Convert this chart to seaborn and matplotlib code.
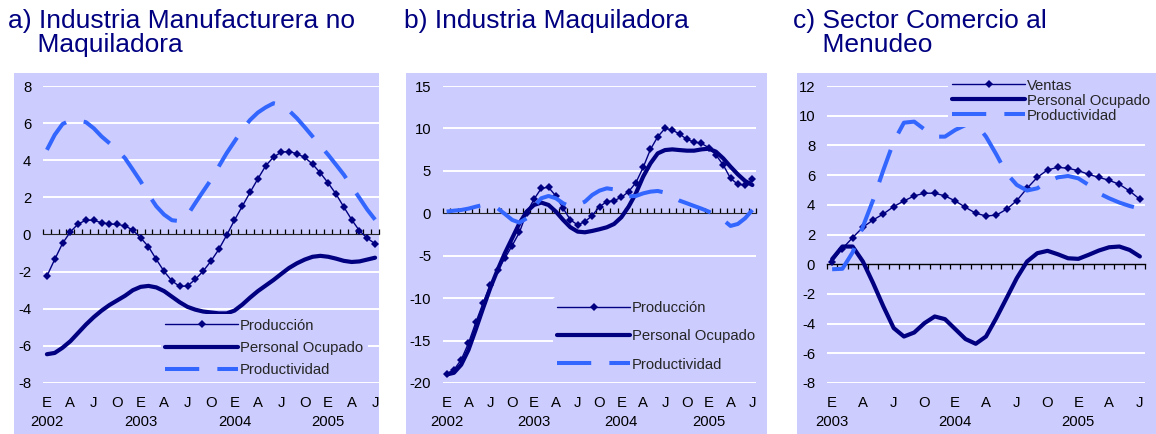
import matplotlib
matplotlib.use("Agg")
import matplotlib.pyplot as plt
import numpy as np
import pandas as pd
import seaborn as sns
from matplotlib.patches import Rectangle

sns.set_style("white")
plt.rcParams["font.family"] = ["Liberation Sans", "DejaVu Sans"]

NAVY = "#000080"
BLUE = "#3366FF"
LAVENDER = "#CCCCFF"

# a) Industria manufacturera no maquiladora, ene-2002 a jul-2005
prod_a = [-2.24, -1.34, -0.48, 0.14, 0.57, 0.77, 0.77, 0.63, 0.57, 0.54,
          0.47, 0.23, -0.18, -0.66, -1.34, -1.99, -2.5, -2.8, -2.77, -2.41,
          -1.97, -1.43, -0.8, -0.04, 0.77, 1.52, 2.27, 3.0, 3.7, 4.17,
          4.44, 4.47, 4.35, 4.15, 3.79, 3.31, 2.77, 2.18, 1.48, 0.8,
          0.2, -0.2, -0.5]
pers_a = [-6.45, -6.38, -6.1, -5.75, -5.3, -4.85, -4.45, -4.1, -3.8, -3.55,
          -3.3, -3.0, -2.82, -2.77, -2.85, -3.05, -3.35, -3.65, -3.9, -4.05,
          -4.15, -4.2, -4.25, -4.25, -4.1, -3.78, -3.4, -3.05, -2.75, -2.45,
          -2.12, -1.8, -1.55, -1.35, -1.2, -1.15, -1.2, -1.3, -1.42, -1.48,
          -1.45, -1.35, -1.25]
prodv_a = [4.56, 5.37, 5.95, 6.15, 6.15, 6.05, 5.72, 5.28, 4.92, 4.56,
           4.11, 3.49, 2.86, 2.15, 1.52, 1.07, 0.77, 0.72, 1.05, 1.7,
           2.33, 2.95, 3.67, 4.38, 5.01, 5.64, 6.17, 6.57, 6.85, 7.07,
           6.98, 6.67, 6.26, 5.78, 5.28, 4.78, 4.29, 3.76, 3.22, 2.59,
           1.97, 1.34, 0.8]

# b) Industria maquiladora, ene-2002 a jul-2005
prod_b = [-18.91, -18.44, -17.26, -15.3, -12.87, -10.59, -8.43, -6.67, -5.3, -3.81,
          -2.24, 0.08, 1.65, 2.94, 3.06, 2.04, 0.59, -0.78, -1.37, -0.98,
          -0.27, 0.78, 1.37, 1.49, 1.88, 2.55, 3.61, 5.41, 7.53, 9.02,
          10.0, 9.81, 9.34, 8.71, 8.4, 8.24, 7.73, 6.87, 5.69, 4.12,
          3.41, 3.33, 4.0]
pers_b = [-19.0, -18.8, -17.85, -16.1, -13.7, -11.2, -8.8, -6.67, -4.7, -2.94,
          -1.18, 0.2, 0.98, 1.26, 0.98, 0.2, -0.78, -1.65, -2.16, -2.24,
          -2.08, -1.88, -1.65, -1.26, -0.47, 0.78, 2.35, 4.32, 5.88, 7.06,
          7.45, 7.53, 7.45, 7.38, 7.38, 7.53, 7.61, 7.26, 6.47, 5.49,
          4.59, 3.81, 3.33]
prodv_b = [0.2, 0.31, 0.39, 0.55, 0.78, 0.98, 0.78, 0.59, -0.08, -0.78,
           -1.1, -0.59, 0.78, 1.77, 2.04, 1.77, 1.18, 0.78, 0.98, 1.37,
           2.16, 2.67, 2.94, 2.82, 2.3, 2.0, 2.04, 2.35, 2.55, 2.63,
           2.43, 1.96, 1.49, 1.18, 0.86, 0.55, 0.2, -0.2, -0.78, -1.49,
           -1.26, -0.59, 0.39]

# c) Sector comercio al menudeo, ene-2003 a jul-2005
ventas_c = [0.18, 1.05, 1.79, 2.49, 2.98, 3.39, 3.88, 4.26, 4.6, 4.78,
            4.78, 4.6, 4.26, 3.83, 3.43, 3.25, 3.3, 3.7, 4.28, 5.11,
            5.85, 6.35, 6.52, 6.46, 6.3, 6.05, 5.85, 5.65, 5.38, 4.93,
            4.37]
pers_c = [0.34, 1.19, 1.19, 0.18, -1.28, -2.85, -4.3, -4.87, -4.6, -3.97,
          -3.52, -3.7, -4.37, -5.04, -5.36, -4.87, -3.63, -2.29, -0.94, 0.18,
          0.74, 0.9, 0.67, 0.4, 0.36, 0.63, 0.92, 1.14, 1.19, 0.96,
          0.52]
prodv_c = [-0.34, -0.31, 0.8, 2.53, 4.33, 6.35, 8.25, 9.53, 9.6, 9.08,
           8.59, 8.59, 9.04, 9.37, 9.48, 8.59, 7.4, 6.12, 5.34, 4.96,
           5.11, 5.56, 5.85, 5.94, 5.78, 5.34, 4.78, 4.44, 4.15, 3.92,
           3.75]

meses = ["E", "F", "M", "A", "M", "J", "J", "A", "S", "O", "N", "D"]

titulos = ["a) Industria Manufacturera no\n    Maquiladora",
           "b) Industria Maquiladora",
           "c) Sector Comercio al\n    Menudeo"]

W, H = 1156, 434


def px_rect(x0, y0, x1, y1):
    # pixel box (top-left origin) -> figure fraction [l, b, w, h]
    return [x0 / W, 1 - y1 / H, (x1 - x0) / W, (y1 - y0) / H]


def panel(ax, series, start_year, ylim, ystep, leg_anchor, leg_space):
    n = len(series[0][1])
    df = pd.DataFrame({"mes": np.arange(n)})
    for label, vals, kind in series:
        df[label] = vals
        if kind == "prod":
            sns.lineplot(data=df, x="mes", y=label, ax=ax, color=NAVY, lw=1.0,
                         marker="D", markersize=3.6, markeredgewidth=0, label=label)
        elif kind == "pers":
            sns.lineplot(data=df, x="mes", y=label, ax=ax, color=NAVY, lw=3.0,
                         label=label)
        else:
            sns.lineplot(data=df, x="mes", y=label, ax=ax, color=BLUE, lw=2.9,
                         ls=(0, (8.5, 4.5)), label=label)

    ax.set_facecolor("none")
    ax.set_axisbelow(True)
    ax.set_xlim(-0.5, n - 0.5)
    ax.set_ylim(*ylim)
    yt = np.arange(ylim[0], ylim[1] + 0.1, ystep)
    ax.set_yticks(yt)
    ax.set_yticklabels([f"{v:g}" for v in yt])
    ax.yaxis.grid(True, color="white", lw=1.4)
    ax.xaxis.grid(False)
    for s in ax.spines.values():
        s.set_visible(False)

    pos = np.arange(0, n, 3)
    labs = []
    for p in pos:
        m = p % 12
        lab = meses[m]
        if m == 0:
            lab += "\n" + str(start_year + p // 12)
        labs.append(lab)
    ax.set_xticks(pos)
    ax.set_xticklabels(labs, linespacing=1.42)
    ax.tick_params(axis="x", length=0, pad=9.6, labelsize=10.7, colors="black")
    ax.tick_params(axis="y", length=0, pad=8.5, labelsize=10.7, colors="black")
    ax.set_xlabel("")
    ax.set_ylabel("")

    # the zero line replaces the white gridline at 0
    for t in ax.yaxis.get_major_ticks():
        if abs(t.get_loc()) < 1e-9:
            t.gridline.set_visible(False)

    # zero axis with monthly tick marks
    zero = (0 - ylim[0]) / (ylim[1] - ylim[0])
    sec = ax.secondary_xaxis(zero)
    sec.set_xticks(np.arange(-0.5, n, 1))
    sec.set_xticklabels([])
    sec.tick_params(axis="x", direction="out", length=3.5, width=0.9, color="black")
    sec.spines["bottom"].set_color("black")
    sec.spines["bottom"].set_linewidth(1.0)
    sec.set_zorder(1)

    leg = ax.legend(loc="upper left", bbox_to_anchor=leg_anchor, borderaxespad=0,
                    frameon=True, facecolor=LAVENDER, edgecolor="none", framealpha=1,
                    fontsize=10.7, handlelength=4.9, handletextpad=0.12,
                    labelspacing=leg_space, borderpad=0.3)
    leg.get_frame().set_linewidth(0)


fig = plt.figure(figsize=(W / 100, H / 100), dpi=100, facecolor="white")

# lavender panel backgrounds
for x0, x1 in [(14, 379), (406, 767), (797, 1156)]:
    l, b, w, h = px_rect(x0, 73, x1, 434)
    fig.add_artist(Rectangle((l, b), w, h, transform=fig.transFigure,
                             facecolor=LAVENDER, edgecolor="none", zorder=-1))

ax_a = fig.add_axes(px_rect(43, 86, 379, 383))
ax_b = fig.add_axes(px_rect(443, 86, 756, 383))
ax_c = fig.add_axes(px_rect(827, 86, 1145, 383))

panel(ax_a, [("Producción", prod_a, "prod"), ("Personal Ocupado", pers_a, "pers"),
             ("Productividad", prodv_a, "prodv")],
      2002, (-8, 8), 2, (0.351, 0.232), 0.55)
panel(ax_b, [("Producción", prod_b, "prod"), ("Personal Ocupado", pers_b, "pers"),
             ("Productividad", prodv_b, "prodv")],
      2002, (-20, 15), 5, (0.351, 0.29), 0.95)
panel(ax_c, [("Ventas", ventas_c, "prod"), ("Personal Ocupado", pers_c, "pers"),
             ("Productividad", prodv_c, "prodv")],
      2003, (-8, 12), 2, (0.380, 1.04), 0.07)

for x, t in zip([8, 404, 793], titulos):
    fig.text(x / W, 1 - 9 / H, t, ha="left", va="top", fontsize=19, color=NAVY,
             linespacing=1.0)

fig.savefig("out.png", dpi=100, facecolor="white")
